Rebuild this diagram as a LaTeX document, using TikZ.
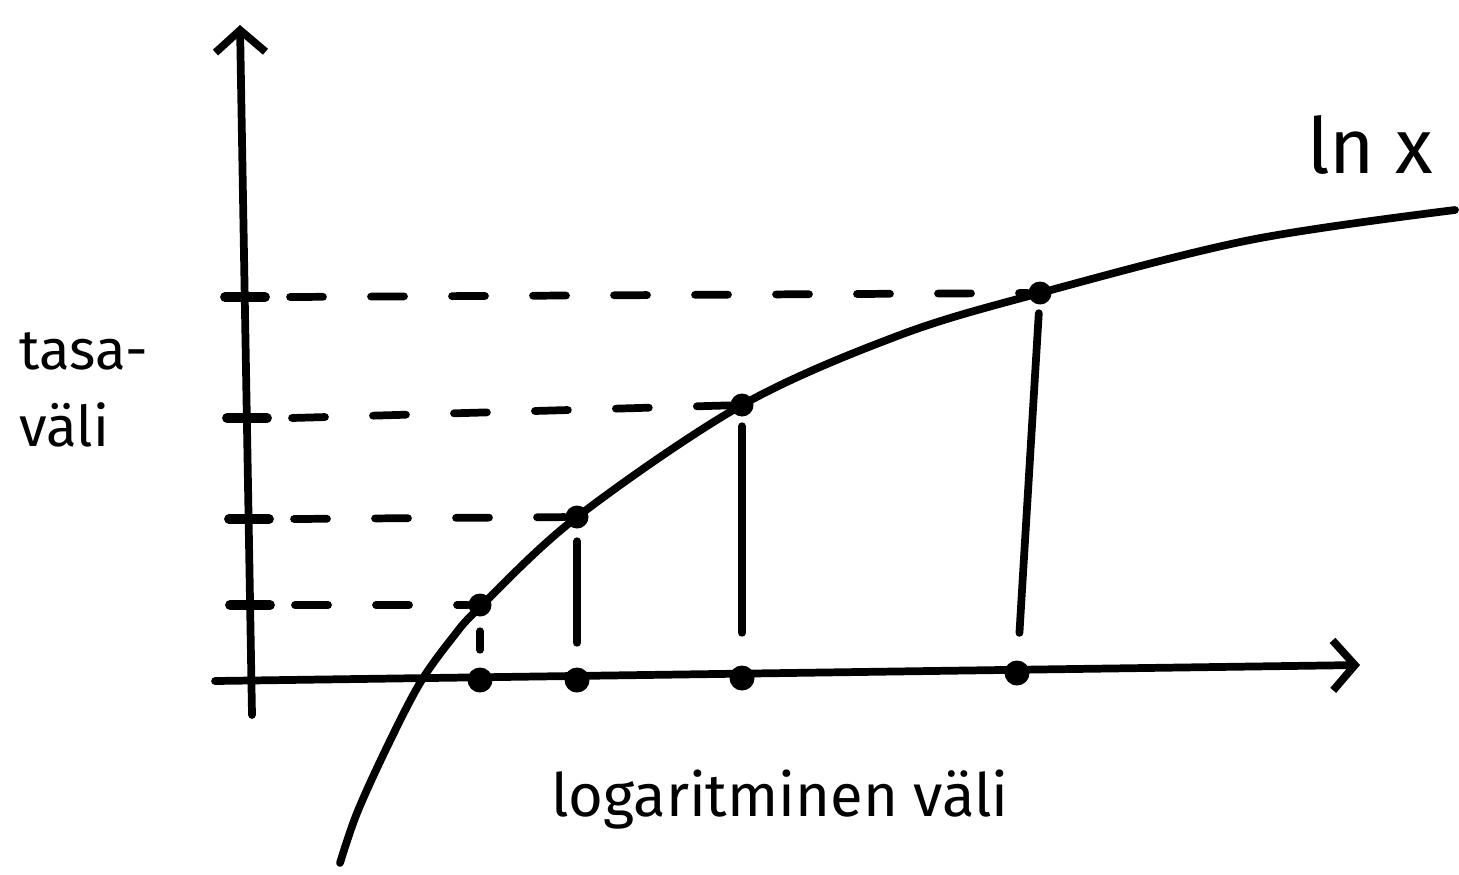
\documentclass[tikz,border=0pt]{standalone}
\usepackage{fontspec}
\setmainfont{Fira Sans}
\usetikzlibrary{arrows.meta}
\tikzset{
  pen/.style={line width=2.2pt,line cap=round,line join=round},
  dot/.style={circle,fill,inner sep=0pt,minimum size=0.23cm},
  guide/.style={pen,dash pattern=on 0.33cm off 0.48cm},
  tickmark/.style={pen,line width=2.8pt},
  barb/.style={-{Straight Barb[length=0.22cm,width=0.5cm,line width=2.2pt]}}
}
\newcommand{\loglevel}[7]{%
  \coordinate (t#1) at (#2);
  \node[dot] (p#1) at (#3) {};
  \node[dot,minimum height=0.25cm] (q#1) at (#4) {};
  \draw[tickmark] ([xshift=-0.2cm]t#1) -- ([xshift=0.2cm]t#1);
  \draw[guide] ([xshift=0.45cm]t#1) -- (p#1);
  \draw[pen,#5,shorten <=#6,shorten >=#7] (p#1) -- (q#1);
}

\begin{document}
\begin{tikzpicture}
  \useasboundingbox (0,0) rectangle (14.59,8.74);
  \coordinate (ybot) at (2.52,1.59);
  \coordinate (ytop) at (2.40,8.49);
  \coordinate (xbeg) at (2.15,1.93);
  \coordinate (xend) at (13.60,2.09);
  \draw[pen,barb] (ybot) -- (ytop);
  \draw[pen,barb] (xbeg) -- (xend);
  \draw[pen] plot[smooth,tension=0.55] coordinates {(3.40,0.11) (3.57,0.61)
    (3.87,1.27) (4.20,1.91) (4.53,2.37) (4.80,2.67) (5.77,3.57) (7.42,4.69)
    (9.00,5.39) (10.40,5.81) (12.50,6.34) (14.55,6.64)};
  \loglevel{1}{2.50,2.69}{4.80,2.69}{4.80,1.94}{}{0.14cm}{0.17cm}
  \loglevel{2}{2.49,3.55}{5.77,3.57}{5.77,1.94}{}{0.12cm}{0.24cm}
  \loglevel{3}{2.47,4.56}{7.42,4.69}{7.42,1.96}{}{0.09cm}{0.32cm}
  \loglevel{4}{2.45,5.77}{10.40,5.81}{10.17,2.01}{}{0.08cm}{0.27cm}
  \node[font=\fontsize{22}{26}\selectfont] (lnlabel) at (13.70,7.29) {ln x};
  \node[font=\fontsize{16}{20}\selectfont,align=left] (tasalabel) at (0.84,4.84) {tasa-\\[2pt]väli};
  \node[font=\fontsize{17}{20}\selectfont] (loglabel) at (7.80,0.74) {logaritminen väli};
\end{tikzpicture}
\end{document}
